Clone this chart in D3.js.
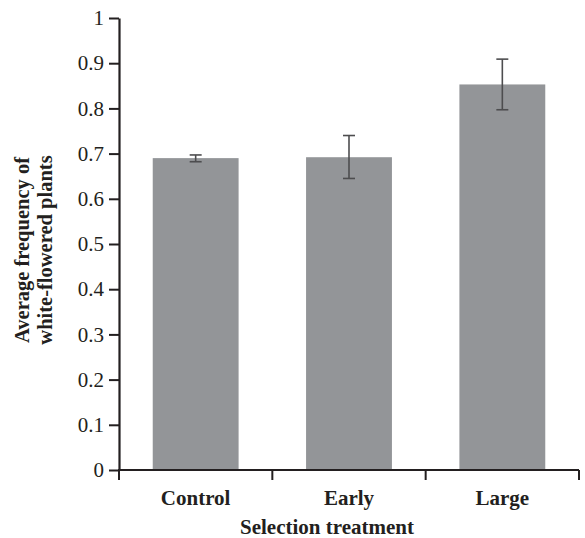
<!DOCTYPE html>
<html><head><meta charset="utf-8">
<script src="https://cdn.jsdelivr.net/npm/d3@7"></script>
<style>body{margin:0;background:#fff}</style>
</head><body>
<script>
const categories = ["Control", "Early", "Large"];
const values = [0.690, 0.692, 0.853];
const errLow = [0.682, 0.645, 0.797];
const errHigh = [0.697, 0.740, 0.909];
const yTicks = [0, 0.1, 0.2, 0.3, 0.4, 0.5, 0.6, 0.7, 0.8, 0.9, 1];
const yTickLabels = ["0", "0.1", "0.2", "0.3", "0.4", "0.5", "0.6", "0.7", "0.8", "0.9", "1"];

const W = 585, H = 538;
const svg = d3.select("body").append("svg").attr("width", W).attr("height", H);
const x = d3.scaleBand().domain(categories).range([119, 579]).paddingInner(0.44).paddingOuter(0.22);
const y = d3.scaleLinear().domain([0, 1]).range([470, 18]);
const font = "'Liberation Serif', 'Times New Roman', serif";
const axisColor = "#231f20";

// bars
svg.selectAll("rect.bar").data(categories).join("rect")
  .attr("x", d => x(d)).attr("width", x.bandwidth())
  .attr("y", (d, i) => y(values[i])).attr("height", (d, i) => y(0) - y(values[i]))
  .attr("fill", "#939598");

// error bars
const eb = svg.append("g").attr("stroke", "#4d4d4f").attr("stroke-width", 1.6);
categories.forEach((c, i) => {
  const cx = x(c) + x.bandwidth() / 2;
  eb.append("line").attr("x1", cx).attr("x2", cx).attr("y1", y(errLow[i])).attr("y2", y(errHigh[i]));
  eb.append("line").attr("x1", cx - 6).attr("x2", cx + 6).attr("y1", y(errLow[i])).attr("y2", y(errLow[i]));
  eb.append("line").attr("x1", cx - 6).attr("x2", cx + 6).attr("y1", y(errHigh[i])).attr("y2", y(errHigh[i]));
});

// y axis
const yAxis = d3.axisLeft(y).tickValues(yTicks).tickFormat((d, i) => yTickLabels[i]).tickSize(10).tickSizeOuter(0).tickPadding(5);
const gy = svg.append("g").attr("transform", "translate(119,0)").call(yAxis);
gy.select(".domain").attr("stroke", axisColor).attr("stroke-width", 2.2);
gy.selectAll(".tick line").attr("stroke", axisColor).attr("stroke-width", 2);
gy.selectAll(".tick text").attr("font-family", font).attr("font-size", 21).attr("fill", axisColor);

// x axis: line with ticks at band boundaries
const gx = svg.append("g");
gx.append("line").attr("x1", 118).attr("x2", 579).attr("y1", 470).attr("y2", 470)
  .attr("stroke", axisColor).attr("stroke-width", 2.2);
const step = x.step();
const bounds = [119].concat(categories.map(c => x(c) + x.bandwidth() / 2 + step / 2));
gx.selectAll("line.bt").data(bounds).join("line")
  .attr("x1", d => d).attr("x2", d => d).attr("y1", 470).attr("y2", 480)
  .attr("stroke", axisColor).attr("stroke-width", 2);
gx.selectAll("text").data(categories).join("text")
  .attr("x", d => x(d) + x.bandwidth() / 2).attr("y", 505)
  .attr("text-anchor", "middle").attr("font-family", font).attr("font-weight", "bold")
  .attr("font-size", 21).attr("fill", axisColor).text(d => d);

svg.append("text").attr("x", 327).attr("y", 534).attr("text-anchor", "middle")
  .attr("font-family", font).attr("font-weight", "bold").attr("font-size", 21)
  .attr("fill", axisColor).text("Selection treatment");

const yt = svg.append("text").attr("transform", "translate(0,250) rotate(-90)")
  .attr("text-anchor", "middle").attr("font-family", font).attr("font-weight", "bold")
  .attr("font-size", 20.5).attr("fill", axisColor);
yt.append("tspan").attr("x", 0).attr("y", 29).text("Average frequency of");
yt.append("tspan").attr("x", 0).attr("y", 52).text("white-flowered plants");
</script>
</body></html>
